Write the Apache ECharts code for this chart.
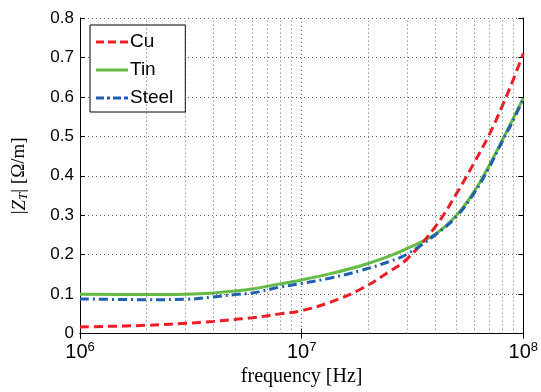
<!DOCTYPE html>
<html>
<head>
<meta charset="utf-8">
<script src="https://cdn.jsdelivr.net/npm/echarts@6/dist/echarts.min.js"></script>
<style>
  html, body { margin: 0; padding: 0; background: #fff; }
  #chart { width: 541px; height: 392px; }
</style>
</head>
<body>
<div id="chart"></div>
<script>
// frequency points [Hz]
var freq = [1e6, 2e6, 3e6, 4e6, 5e6, 6e6, 8e6, 1e7, 1.35e7, 1.85e7, 2.5e7, 3e7, 4e7, 5e7, 6e7, 7e7, 8e7, 9e7, 1e8]
var cuVals = [0.017, 0.021, 0.026, 0.031, 0.036, 0.04, 0.05, 0.058, 0.08, 0.113, 0.158, 0.19, 0.27, 0.355, 0.433, 0.503, 0.574, 0.643, 0.71]
var tinVals = [0.10, 0.099, 0.10, 0.103, 0.108, 0.113, 0.126, 0.136, 0.152, 0.172, 0.197, 0.216, 0.252, 0.30, 0.36, 0.425, 0.488, 0.545, 0.597]
var steelVals = [0.088, 0.086, 0.087, 0.093, 0.099, 0.103, 0.118, 0.127, 0.141, 0.16, 0.183, 0.202, 0.25, 0.297, 0.356, 0.42, 0.485, 0.54, 0.595]
// minor log grid lines (2..9 per decade)
var minorFreq = [2e6, 3e6, 4e6, 5e6, 6e6, 7e6, 8e6, 9e6, 2e7, 3e7, 4e7, 5e7, 6e7, 7e7, 8e7, 9e7]

function pairs (xs, ys) {
  return xs.map(function (x, i) { return [x, ys[i]] })
}

var chart = echarts.init(document.getElementById('chart'))
var axisLine = { show: true, lineStyle: { color: '#000', width: 1 } }
var tick = { inside: true, length: 5, lineStyle: { color: '#000' } }
var dotted = { show: true, lineStyle: { color: '#666', type: [1, 3], width: 1 } }

var option = {
  animation: false,
  backgroundColor: '#fff',
  grid: { left: 80, right: 17, top: 18, bottom: 52 },
  legend: {
    data: [
      { name: 'Cu', icon: 'path://M0,0h8v3h-8zM12,0h8v3h-8zM24,0h8v3h-8z' },
      { name: 'Tin', icon: 'path://M0,0h32v3h-32z' },
      { name: 'Steel', icon: 'path://M0,0h8v3h-8zM11,0h3v3h-3zM17,0h8v3h-8zM28,0h4v3h-4z' }
    ],
    orient: 'vertical',
    left: 90,
    top: 25,
    padding: [7, 12, 4, 6],
    itemGap: 8,
    itemWidth: 32,
    itemHeight: 3,
    backgroundColor: '#fff',
    borderColor: '#000',
    borderWidth: 1,
    borderRadius: 0,
    textStyle: { fontFamily: 'Liberation Sans', fontSize: 19, lineHeight: 20, color: '#000', padding: [0, 0, 0, -3] }
  },
  xAxis: [{
    type: 'log',
    logBase: 10,
    min: 1e6,
    max: 1e8,
    name: 'frequency [Hz]',
    nameLocation: 'middle',
    nameGap: 29,
    nameTextStyle: { fontFamily: 'Liberation Serif', fontSize: 20, color: '#000' },
    axisLine: axisLine,
    axisTick: tick,
    splitLine: dotted,
    axisLabel: {
      margin: 7,
      color: '#000',
      fontFamily: 'Liberation Sans',
      fontSize: 20,
      formatter: function (v) {
        return '10{sup|' + Math.round(Math.log10(v)) + '}'
      },
      rich: {
        sup: { fontFamily: 'Liberation Sans', fontSize: 13, color: '#000', verticalAlign: 'top', padding: [0, 0, 10, 0] }
      }
    }
  }, {
    type: 'log',
    logBase: 10,
    min: 1e6,
    max: 1e8,
    position: 'top',
    axisLine: axisLine,
    axisTick: tick,
    axisLabel: { show: false },
    splitLine: { show: false }
  }],
  yAxis: [{
    type: 'value',
    min: 0,
    max: 0.8,
    interval: 0.1,
    name: '|{it|Z}{sub|T}| [Ω/m]',
    nameLocation: 'middle',
    nameGap: 50,
    nameRotate: 90,
    nameTextStyle: {
      fontFamily: 'Liberation Serif',
      fontSize: 19,
      color: '#000',
      rich: {
        it: { fontFamily: 'Liberation Serif', fontStyle: 'italic', fontSize: 19, color: '#000' },
        sub: { fontFamily: 'Liberation Serif', fontStyle: 'italic', fontSize: 13, color: '#000', verticalAlign: 'bottom', padding: [8, 0, 0, 0] }
      }
    },
    axisLine: axisLine,
    axisTick: tick,
    splitLine: dotted,
    axisLabel: {
      margin: 6,
      color: '#000',
      fontFamily: 'Liberation Sans',
      fontSize: 17,
      formatter: function (v) { return v === 0 ? '0' : v.toFixed(1) }
    }
  }, {
    type: 'value',
    min: 0,
    max: 0.8,
    interval: 0.1,
    position: 'right',
    axisLine: axisLine,
    axisTick: tick,
    axisLabel: { show: false },
    splitLine: { show: false }
  }],
  series: [{
    name: 'grid',
    type: 'line',
    data: [],
    z: 1,
    markLine: {
      silent: true,
      symbol: 'none',
      label: { show: false },
      lineStyle: { color: '#666', type: [1, 3], width: 1 },
      data: minorFreq.map(function (v) { return { xAxis: v } })
    }
  }, {
    name: 'Cu',
    type: 'line',
    smooth: 0.4,
    symbol: 'none',
    z: 4,
    data: pairs(freq, cuVals),
    itemStyle: { color: '#ee1c24' },
    lineStyle: { color: '#ee1c24', width: 3, type: [9, 5] }
  }, {
    name: 'Tin',
    type: 'line',
    smooth: 0.4,
    symbol: 'none',
    z: 3,
    data: pairs(freq, tinVals),
    itemStyle: { color: '#66bb44' },
    lineStyle: { color: '#66bb44', width: 3 }
  }, {
    name: 'Steel',
    type: 'line',
    smooth: 0.4,
    symbol: 'none',
    z: 4,
    data: pairs(freq, steelVals),
    itemStyle: { color: '#1f5fb0' },
    lineStyle: { color: '#1f5fb0', width: 3, type: [9, 4, 2, 4] }
  }]
}

chart.setOption(option)
</script>
</body>
</html>
